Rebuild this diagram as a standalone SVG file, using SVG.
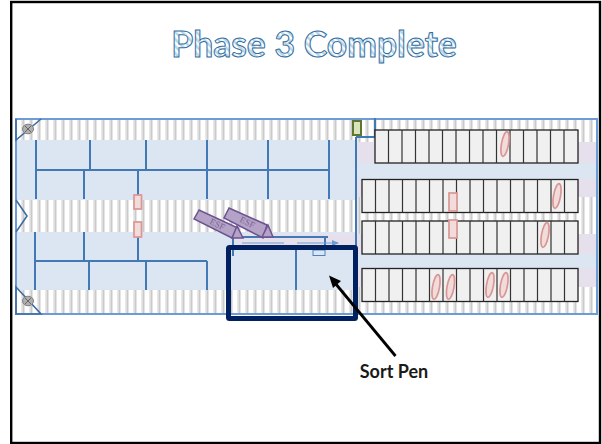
<svg xmlns="http://www.w3.org/2000/svg" width="602" height="444" viewBox="0 0 602 444">
<style>
.wall{stroke:#4279b5;stroke-width:2;fill:none}
.pink{fill:#f2dcdb;stroke:#d99694;stroke-width:1.7}
.rack{fill:#f0f0f0;stroke:#222;stroke-width:1.3}
.cell{stroke:#333;stroke-width:1.2}
.esf{fill:#b4a2c7;stroke:#6c5390;stroke-width:1.5}
.esft{font-family:"Liberation Serif",serif;font-size:9px;fill:#7a6496}
.pale{fill:#dce6f2}
.lilac{fill:#e6e0ec}
.hatch{fill:url(#h)}
</style>
<defs>
<pattern id="h" width="8" height="10" patternUnits="userSpaceOnUse" x="2"><rect width="8" height="10" fill="#fff"/><rect x="3" width="1.5" height="10" fill="#e8e8e8"/><rect x="4.5" width="2" height="10" fill="#cacaca"/></pattern>
<pattern id="t" width="5" height="5" patternUnits="userSpaceOnUse" patternTransform="rotate(-45)"><rect width="5" height="5" fill="#fff"/><rect width="2.500" height="5" fill="#b4d8ea"/></pattern>
<marker id="a" markerWidth="6" markerHeight="6" refX="5" refY="3" orient="auto"><path d="M0 0.5L6 3L0 5.5Z" fill="#6f9bd0"/></marker>
<g id="c"><ellipse rx="5.500" ry="4.800" fill="#b0b0b0" stroke="#808080"/><path d="M-3-3L3 3M3-3L-3 3" stroke="#666" stroke-width="1"/></g>
</defs>
<rect x="11.200" y="2" width="588.800" height="441" fill="#fff" stroke="#000" stroke-width="2.400"/>
<text id="title" x="314" y="56.500" text-anchor="middle" font-family="Lato,sans-serif" font-size="35.500" font-weight="700" fill="url(#t)" stroke="#366d9e" stroke-width="1">Phase 3 Complete</text>
<g id="floor">
<rect class="hatch" x="15" y="118" width="582" height="197"/>
<rect class="pale" x="15" y="140" width="341" height="60"/>
<rect class="pale" x="15" y="232" width="341" height="58"/>
<rect class="lilac" x="233" y="234" width="129" height="13"/>
<rect class="lilac" x="356" y="142" width="19" height="21"/>
<rect class="lilac" x="356" y="179" width="6" height="18"/>
<rect class="lilac" x="356" y="234" width="6" height="20"/>
<rect class="lilac" x="356" y="268" width="6" height="19"/>
<rect class="lilac" x="578" y="142" width="19" height="21"/>
<rect class="lilac" x="578" y="179" width="19" height="18"/>
<rect class="lilac" x="578" y="234" width="19" height="20"/>
<rect class="lilac" x="578" y="268" width="19" height="19"/>
<rect class="pale" x="356" y="163" width="241" height="16"/>
<rect class="pale" x="356" y="254" width="241" height="14"/>
</g>
<g id="connectors">
<path class="wall" d="M36 140V199M90 140V170M146 140V170M207 140V170M268 140V170M329 140V199M36 170H329M84 170V199M138 170V195M207 170V199M268 170V199"/>
<path class="wall" d="M35 232V290M35 261H207M84 232V261M138 232V261M89 261V290M146 261V290M207 261V290M233 237V256M296 247V290M233 237H328M325 237V250"/>
<path d="M16 119H597V314H16Z" fill="none" stroke="#6c9cd8" stroke-width="2"/>
<path class="wall" d="M356 137V315M356 137H375V118"/>
<path d="M41 119L16 140V119M16 200L27 216L16 232M16 287L41 314H16Z" fill="none" stroke="#3d6da5" stroke-width="1.600"/>
<rect x="313" y="250" width="12" height="5.500" fill="none" stroke="#4f81bd" stroke-width="1"/>
<path d="M242 243H284M297 243H338" stroke="#6f9bd0" stroke-width="1.200" marker-end="url(#a)"/>
</g>
<g id="sensors"><use href="#c" x="28" y="129"/><use href="#c" x="28" y="301"/></g>
<rect id="gate" x="353" y="121" width="8" height="14" fill="#d8e4bc" stroke="#5f7530" stroke-width="2"/>
<g id="rack1"><rect class="rack" x="375" y="130" width="203" height="33"/><path class="cell" d="M388.500 130V163M402 130V163M415.500 130V163M429 130V163M442.500 130V163M456 130V163M469.500 130V163M483 130V163M496.500 130V163M510 130V163M523.500 130V163M537 130V163M550.500 130V163M564 130V163"/></g>
<g id="rack2"><rect class="rack" x="362" y="179.500" width="216" height="33"/><path class="cell" d="M375.500 179.500V212.500M389 179.500V212.500M402.500 179.500V212.500M416 179.500V212.500M429.500 179.500V212.500M443 179.500V212.500M456.500 179.500V212.500M470 179.500V212.500M483.500 179.500V212.500M497 179.500V212.500M510.500 179.500V212.500M524 179.500V212.500M537.500 179.500V212.500M551 179.500V212.500M564.500 179.500V212.500"/></g>
<g id="rack3"><rect class="rack" x="362" y="221" width="216" height="33"/><path class="cell" d="M375.500 221V254M389 221V254M402.500 221V254M416 221V254M429.500 221V254M443 221V254M456.500 221V254M470 221V254M483.500 221V254M497 221V254M510.500 221V254M524 221V254M537.500 221V254M551 221V254M564.500 221V254"/></g>
<g id="rack4"><rect class="rack" x="362" y="268.500" width="216" height="33"/><path class="cell" d="M375.500 268.500V301.500M389 268.500V301.500M402.500 268.500V301.500M416 268.500V301.500M429.500 268.500V301.500M443 268.500V301.500M456.500 268.500V301.500M470 268.500V301.500M483.500 268.500V301.500M497 268.500V301.500M510.500 268.500V301.500M524 268.500V301.500M537.500 268.500V301.500M551 268.500V301.500M564.500 268.500V301.500"/></g>
<g id="pallets">
<rect class="pink" x="134" y="195" width="7.500" height="14"/>
<rect class="pink" x="134" y="222" width="7.500" height="15"/>
<rect class="pink" x="449" y="193" width="8" height="18"/>
<rect class="pink" x="449" y="220" width="8" height="18"/>
<ellipse class="pink" cx="505" cy="144" rx="3.500" ry="12.500" transform="rotate(10 505 144)"/>
<ellipse class="pink" cx="557" cy="196" rx="3.500" ry="12.500" transform="rotate(10 557 196)"/>
<ellipse class="pink" cx="545" cy="235" rx="3.500" ry="12.500" transform="rotate(10 545 235)"/>
<ellipse class="pink" cx="436" cy="287" rx="3.500" ry="12.500" transform="rotate(10 436 287)"/>
<ellipse class="pink" cx="450.500" cy="287" rx="3.500" ry="12.500" transform="rotate(10 450.500 287)"/>
<ellipse class="pink" cx="490" cy="285" rx="3.500" ry="12.500" transform="rotate(10 490 285)"/>
<ellipse class="pink" cx="504" cy="285" rx="3.500" ry="12.500" transform="rotate(10 504 285)"/>
</g>
<g id="esf1"><path class="esf" d="M199 210L194 219L232 238L238 228Z"/><path class="esf" d="M237 226L232 238H243Z"/><text class="esft" transform="translate(216 227) rotate(27)" text-anchor="middle">ESF</text></g>
<g id="esf2"><path class="esf" d="M229 208L224 218L263 238L267 225Z"/><path class="esf" d="M268 225L262 237H273Z"/><text class="esft" transform="translate(246 225) rotate(27)" text-anchor="middle">ESF</text></g>
<rect id="sortpen" x="228.500" y="247.500" width="127" height="71" rx="1" fill="none" stroke="#002060" stroke-width="5"/>
<g id="sortlabel"><path d="M395.500 356L335 283" stroke="#000" stroke-width="2.800" fill="none"/><path d="M329 275.500L341 281L333 288Z" fill="#000"/><text x="394" y="377.500" text-anchor="middle" font-family="Lato,sans-serif" font-size="18" font-weight="700" fill="#1a1a1a">Sort Pen</text></g>
</svg>
